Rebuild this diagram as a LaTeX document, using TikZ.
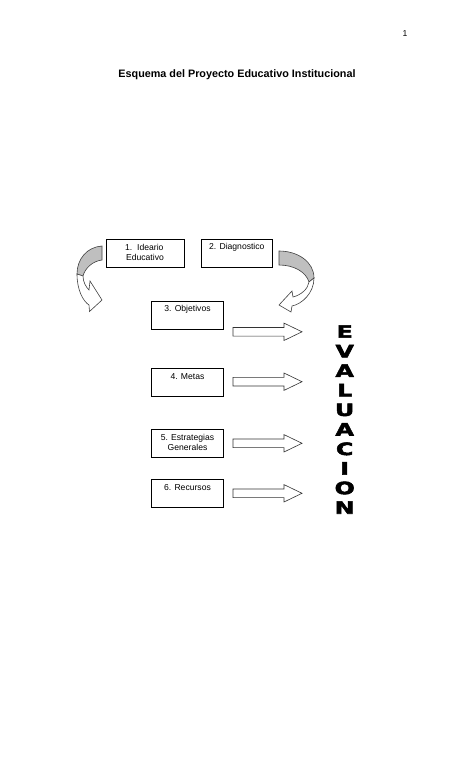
\documentclass[tikz,border=0pt]{standalone}
\usepackage{fontspec}
\setmainfont{Liberation Sans}
\newfontfamily\evfont[FakeBold=3,FakeStretch=1.4]{DejaVu Sans Bold}
\begin{document}
\begin{tikzpicture}[x=1pt,y=-1pt,
  box/.style={draw=black, line width=0.7pt, anchor=north west, inner sep=0pt, minimum height=28pt},
  txt/.style={font=\fontsize{8.6}{10}\selectfont, anchor=base, inner sep=0pt},
  blockarrow/.style={draw=black!80, line width=0.6pt, fill=white},
  ribbonback/.style={draw=black!75, line width=0.6pt, fill=black!25},
  ribbonfront/.style={draw=black!75, line width=0.6pt, fill=white},
  evl/.style={font=\evfont\fontsize{17}{17}\selectfont, anchor=base, inner sep=0pt}]
\useasboundingbox (0,0) rectangle (474,781);
\fill[white] (0,0) rectangle (474,781);

% page number and title
\node[txt] (pnum) at (405,37) {1};
\node[txt, font=\bfseries\fontsize{10.8}{12}\selectfont] (title) at (237,77.5) {Esquema del Proyecto Educativo Institucional};

% boxes
\node[box, minimum width=78.3pt, minimum height=27.4pt] (b1) at (105.7,239.3) {};
\node[box, minimum width=71.6pt, minimum height=27.6pt] (b2) at (200.7,239.1) {};
\node[box, minimum width=72.3pt] (b3) at (151,301) {};
\node[box, minimum width=72.3pt] (b4) at (151,368.3) {};
\node[box, minimum width=72.3pt] (b5) at (151,429.3) {};
\node[box, minimum width=72.3pt] (b6) at (151,479.3) {};

% box texts
\node[txt, anchor=base west] (t1a) at (125,250) {1.\hspace{4.8pt}Ideario};
\node[txt] (t1b) at (145,260) {Educativo};
\node[txt] (t2) at ([yshift=-10.8pt]b2.north) {2. Diagnostico};
\node[txt] (t3) at ([yshift=-10.8pt]b3.north) {3. Objetivos};
\node[txt] (t4) at ([yshift=-10.8pt]b4.north) {4. Metas};
\node[txt] (t5a) at ([yshift=-11.2pt]b5.north) {5. Estrategias};
\node[txt] (t5b) at ([yshift=-21.2pt]b5.north) {Generales};
\node[txt] (t6) at ([yshift=-11.4pt]b6.north) {6. Recursos};

% block arrows towards EVALUACION
\foreach \y in {331.8,381.7,443.3,493.3}{
  \draw[blockarrow] (233,\y-4.3) -- (284,\y-4.3) -- (284,\y-8.7) -- (302,\y)
     -- (284,\y+8.7) -- (284,\y+4.3) -- (233,\y+4.3) -- cycle;
}

% left curved arrow
\draw[ribbonback] (102,246) .. controls (87,247) and (77,259) .. (77,274)
   -- (83,276) .. controls (85,268) and (93,261) .. (102,260) -- cycle;
\draw[ribbonfront] (77,274) .. controls (77,290) and (83,301) .. (89,305)
   -- (89.5,311.5) -- (102,300) -- (90,281) -- (89,290)
   .. controls (86,287) and (83,282) .. (83,276) -- cycle;

% right curved arrow
\draw[ribbonback] (279,251) .. controls (298,251) and (314,262) .. (314,278)
   -- (309,282) .. controls (306,272) and (294,265) .. (279,265) -- cycle;
\draw[ribbonfront] (314,278) .. controls (314,293) and (302,304) .. (292,306)
   -- (291,312) -- (279,305) -- (292,291) -- (293,297)
   .. controls (301,295) and (308,289) .. (309,282) -- cycle;

% EVALUACION
\foreach \c [count=\i from 0] in {E,V,A,L,U,A,C,I,O,N}{
  \node[evl] (ev\i) at (344.7,{337.7+19.56*\i}) {\c};
}
\end{tikzpicture}
\end{document}
